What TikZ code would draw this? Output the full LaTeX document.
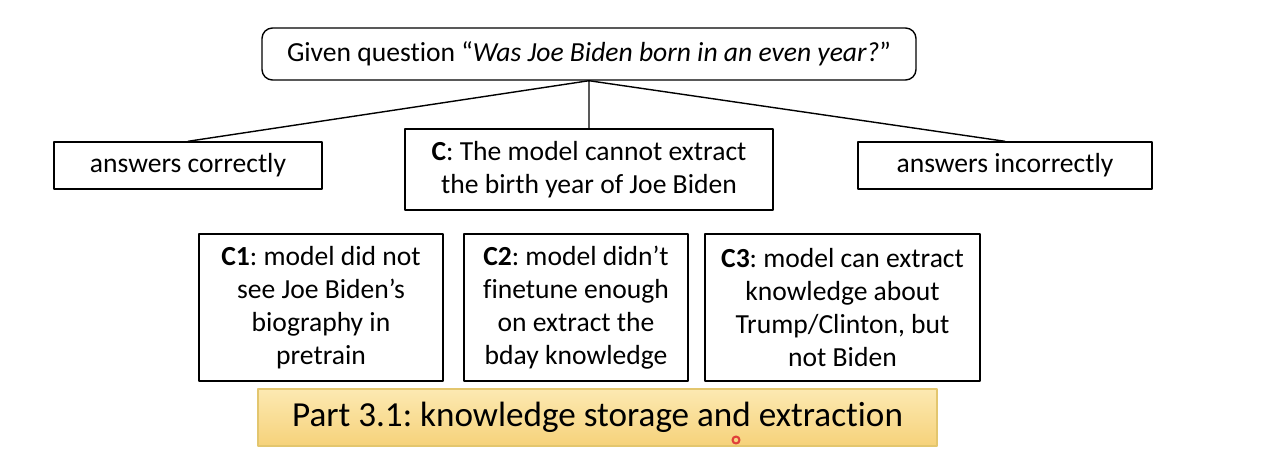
\documentclass[tikz,border=0pt]{standalone}
\usepackage{fontspec}
\setmainfont{Carlito}[Ligatures=NoCommon]
\frenchspacing
\definecolor{partTop}{HTML}{FCE9B2}
\definecolor{partBot}{HTML}{F6D27A}
\definecolor{partLine}{HTML}{E3C66E}
\definecolor{dotRed}{HTML}{E0403A}
\begin{document}
\begin{tikzpicture}[x=0.02cm, y=-0.02cm, line join=round, line cap=round,
	box/.style={draw, line width=0.8pt, align=center, inner sep=0pt,
		font=\fontsize{15.7pt}{18.7pt}\selectfont}]
	\useasboundingbox (0,0) rectangle (1262,474);
	\node[box, rounded corners=6pt, minimum width=654*0.02cm, minimum height=52*0.02cm] (Q) at (589,54)
		{Given question “\textit{Was Joe Biden born in an even year?}”};
	\node[box, minimum width=268*0.02cm, minimum height=47*0.02cm] (yes) at (188,165.5) {answers correctly};
	\node[box, minimum width=368*0.02cm, minimum height=81*0.02cm] (C) at (589,169.5)
		{\textbf{C}: The model cannot extract\\the birth year of Joe Biden};
	\node[box, minimum width=294*0.02cm, minimum height=47*0.02cm] (no) at (1005,165.5) {answers incorrectly};
	\node[box, minimum width=244*0.02cm, minimum height=147*0.02cm] (C1) at (321,307.5)
		{\textbf{C1}: model did not\\see Joe Biden’s\\biography in\\pretrain};
	\node[box, minimum width=224*0.02cm, minimum height=147*0.02cm] (C2) at (576,307.5)
		{\textbf{C2}: model didn’t\\finetune enough\\on extract the\\bday knowledge};
	\node[box, minimum width=275*0.02cm, minimum height=147*0.02cm] (C3) at (842.5,307.5)
		{\textbf{C3}: model can extract\\knowledge about\\Trump/Clinton, but\\not Biden};
	\node[draw=partLine, line width=0.6pt, top color=partTop, bottom color=partBot,
		minimum width=679*0.02cm, minimum height=57*0.02cm, inner sep=0pt,
		font=\fontsize{20pt}{24pt}\selectfont] (part) at (597.5,417.5)
		{Part 3.1: knowledge storage and extraction};
	\draw[line width=0.8pt] (Q.south) -- (yes.north) (Q.south) -- (C.north) (Q.south) -- (no.north);
	% pointer mark
	\draw[dotRed, line width=1.2pt] (736,440) circle (3.5);
\end{tikzpicture}
\end{document}
